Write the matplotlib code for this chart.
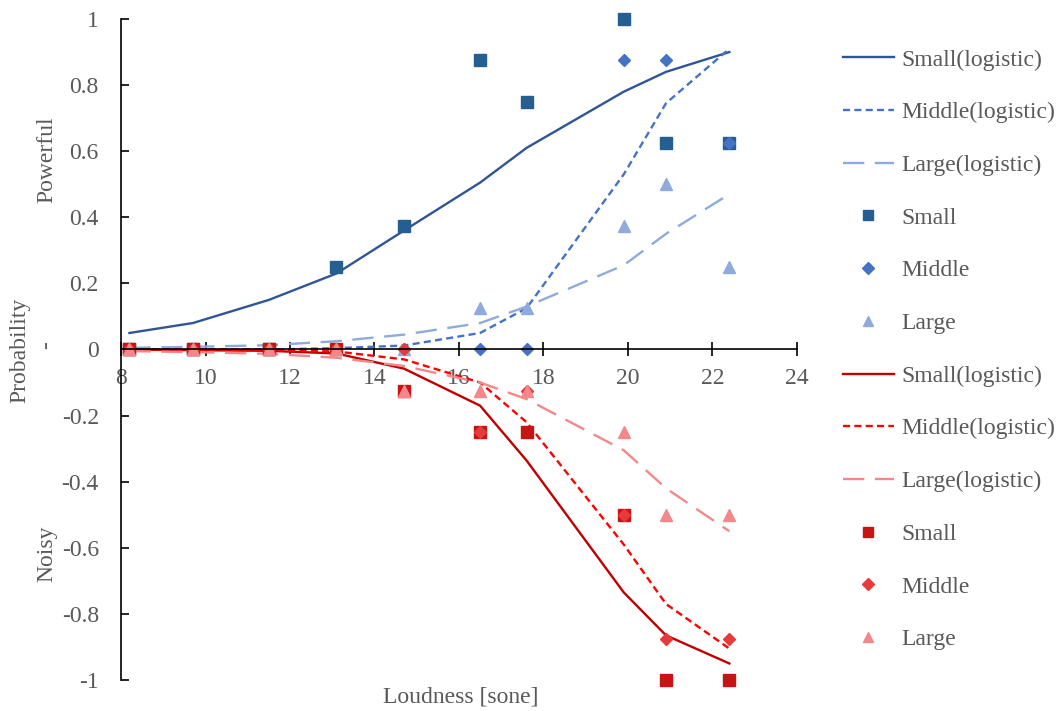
import matplotlib
matplotlib.use("Agg")
import matplotlib.pyplot as plt

plt.rcParams['font.family'] = ['Liberation Serif', 'DejaVu Serif']

# loudness values [sone]
loudness = [8.2, 9.7, 11.5, 13.1, 14.7, 16.5, 17.6, 19.9, 20.9, 22.4]

# powerful (positive side)
pw_small_fit = [0.05, 0.08, 0.15, 0.23, 0.36, 0.505, 0.61, 0.78, 0.84, 0.90]
pw_middle_fit = [0.0, 0.0, 0.0, 0.004, 0.012, 0.05, 0.125, 0.53, 0.745, 0.91]
pw_large_fit = [0.005, 0.008, 0.013, 0.025, 0.045, 0.08, 0.13, 0.255, 0.35, 0.47]
pw_small = [0, 0, 0, 0.25, 0.375, 0.875, 0.75, 1.0, 0.625, 0.625]
pw_middle = [0, 0, 0, 0, 0, 0, 0, 0.875, 0.875, 0.625]
pw_large = [0, 0, 0, 0, 0, 0.125, 0.125, 0.375, 0.5, 0.25]

# noisy (negative side)
ns_small_fit = [0.0, -0.002, -0.004, -0.012, -0.058, -0.17, -0.336, -0.735, -0.865, -0.95]
ns_middle_fit = [0.0, -0.001, -0.002, -0.006, -0.03, -0.10, -0.22, -0.59, -0.77, -0.905]
ns_large_fit = [-0.005, -0.008, -0.013, -0.025, -0.05, -0.10, -0.15, -0.305, -0.42, -0.55]
ns_small = [0, 0, 0, 0, -0.125, -0.25, -0.25, -0.5, -1.0, -1.0]
ns_middle = [0, 0, 0, 0, 0, -0.25, -0.125, -0.5, -0.875, -0.875]
ns_large = [0, 0, 0, 0, -0.125, -0.125, -0.125, -0.25, -0.5, -0.5]

labels = ['Small(logistic)', 'Middle(logistic)', 'Large(logistic)',
          'Small', 'Middle', 'Large']

blue = ['#2F5597', '#4472C4', '#8FAADC']
blue_pts = ['#255E91', '#4472C4', '#8FAADC']
red = ['#C00000', '#FF0000', '#F4878A']
red_pts = ['#C81414', '#E83A3A', '#F4878A']

dashes = [None, (3, 1.8), (9, 4.5)]
markers = ['s', 'D', '^']
msizes = [8.5, 6.5, 8.5]
fs = 17
grey = '#595959'

fig = plt.figure(figsize=(10.56, 7.11), dpi=100)
ax = fig.add_axes([0.1146, 0.0436, 0.6401, 0.9297])

handles = []
for fits, pts, lc, pc in [
        ([pw_small_fit, pw_middle_fit, pw_large_fit], [pw_small, pw_middle, pw_large], blue, blue_pts),
        ([ns_small_fit, ns_middle_fit, ns_large_fit], [ns_small, ns_middle, ns_large], red, red_pts)]:
    for i in range(3):
        ln, = ax.plot(loudness, fits[i], color=lc[i], lw=1.7)
        if dashes[i] is not None:
            ln.set_dashes(dashes[i])
        handles.append(ln)
    for i in range(3):
        pt, = ax.plot(loudness, pts[i], ls='none', marker=markers[i],
                      ms=msizes[i], color=pc[i], mec=pc[i], clip_on=False)
        handles.append(pt)

ax.set_xlim(8, 24)
ax.set_ylim(-1, 1)
ax.set_xticks(range(8, 25, 2))
ax.set_yticks([1, 0.8, 0.6, 0.4, 0.2, 0, -0.2, -0.4, -0.6, -0.8, -1])
ax.set_yticklabels(['1', '0.8', '0.6', '0.4', '0.2', '0', '-0.2', '-0.4',
                    '-0.6', '-0.8', '-1'])

ax.spines['top'].set_visible(False)
ax.spines['right'].set_visible(False)
ax.spines['bottom'].set_position(('data', 0))
for s in ['left', 'bottom']:
    ax.spines[s].set_linewidth(1.2)
    ax.spines[s].set_color('black')

ax.tick_params(axis='x', direction='inout', length=10, width=1.2,
               labelsize=fs, labelcolor=grey, pad=8)
ax.tick_params(axis='y', direction='in', length=6, width=1.2,
               labelsize=fs, labelcolor=grey, pad=16)

# axis titles
fig.text(383 / 1056, 1 - 697 / 711, 'Loudness [sone]', ha='left', va='center',
         fontsize=fs, color=grey)
fig.text(47 / 1056, 1 - 160 / 711, 'Powerful', rotation=90, ha='center',
         va='center', fontsize=fs, color=grey)
fig.text(47 / 1056, 1 - 345 / 711, '-', rotation=90, ha='center',
         va='center', fontsize=fs, color=grey)
fig.text(20 / 1056, 1 - 350 / 711, 'Probability', rotation=90, ha='center',
         va='center', fontsize=fs, color=grey)
fig.text(47 / 1056, 1 - 554 / 711, 'Noisy', rotation=90, ha='center',
         va='center', fontsize=fs, color=grey)

leg = fig.legend(handles, labels * 2, loc='upper left',
                 bbox_to_anchor=(836 / 1056, 1 - 42 / 711), frameon=False,
                 fontsize=fs, labelcolor=grey, handlelength=2.15,
                 handletextpad=0.3, labelspacing=1.32, markerscale=0.9,
                 borderaxespad=0, borderpad=0.3)

fig.savefig('out.png', dpi=100)
